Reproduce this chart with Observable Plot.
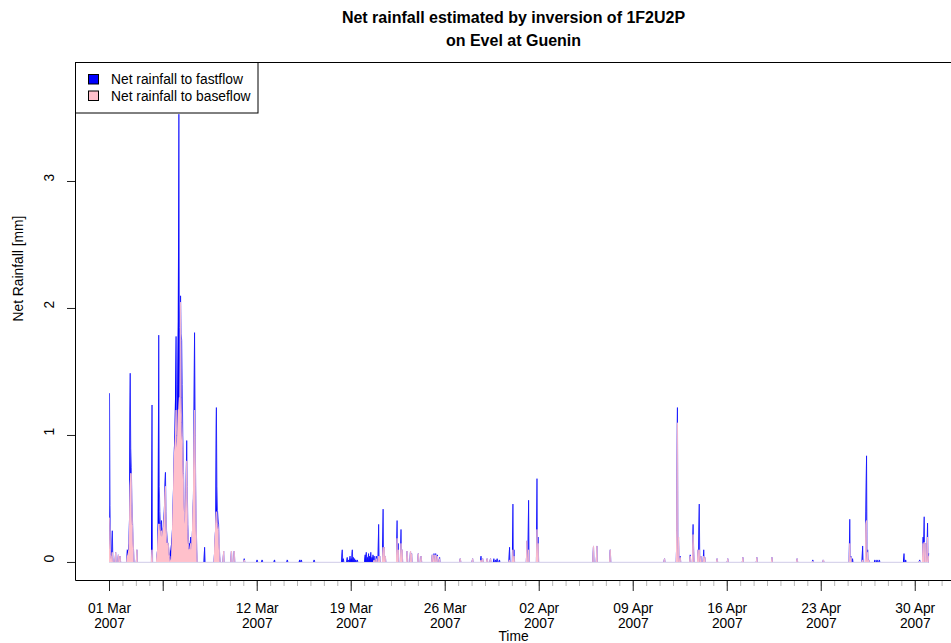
<!DOCTYPE html>
<html><head><meta charset="utf-8">
<script src="https://cdn.jsdelivr.net/npm/d3@7"></script>
<script src="https://cdn.jsdelivr.net/npm/@observablehq/plot@0.6"></script>
<style>
body{margin:0;background:#fff;}
svg{font-family:"Liberation Sans",Arial,Helvetica,sans-serif;}
</style>
</head><body><div id="chart"></div>
<script>
// ---- texts ----
const titleLines = ["Net rainfall estimated by inversion of 1F2U2P", "on Evel at Guenin"];
const yLabel = "Net Rainfall [mm]";
const xLabel = "Time";
const seriesNames = ["Net rainfall to fastflow", "Net rainfall to baseflow"];
const seriesColors = ["blue", "pink"];

// ---- ticks ----
const majorTickDates = ["2007-03-01","2007-03-05","2007-03-12","2007-03-19","2007-03-26","2007-04-02","2007-04-09","2007-04-16","2007-04-23","2007-04-30"];
const majorTickLabels = ["01 Mar\n2007","","12 Mar\n2007","19 Mar\n2007","26 Mar\n2007","02 Apr\n2007","09 Apr\n2007","16 Apr\n2007","23 Apr\n2007","30 Apr\n2007"];
const yTicks = [0, 1, 2, 3];

// ---- data: hours after 01 Mar 2007 00:00 (wet hours only), total net rainfall and its baseflow part (mm) ----
const hourOffsets = [
  0,1,2,3,5,6,11,16,19,
  32,33,34,35,36,37,38,39,40,41,42,43,49,76,
  85,86,87,88,89,90,91,92,93,94,95,96,97,98,99,100,101,102,103,104,105,106,107,108,109,110,
  111,112,113,114,115,116,117,118,119,120,121,122,123,124,125,126,127,128,129,130,131,132,133,134,135,136,137,138,139,140,141,142,143,144,145,146,147,148,149,150,151,152,153,154,155,156,
  170,188,189,190,191,192,193,194,195,196,197,
  204,218,223,241,264,273,295,318,340,343,366,
  416,418,425,427,430,432,434,436,438,440,443,457,459,461,463,465,467,469,471,473,477,481,483,489,491,493,
  514,516,521,523,532,538,540,552,557,577,580,583,586,590,627,649,664,667,675,681,687,690,693,697,
  715,721,723,746,749,764,766,865,871,895,992,
  1014,1015,1017,1020,1038,1043,1044,1052,1054,1057,1062,1064,1086,1105,1132,1157,1184,1229,1257,1276,
  1323,1325,1328,1346,1352,1353,1355,1357,1368,1372,1376,1420,1423,1448,1454,1456,1459,1462,1464];
const totalRain = [
  1.33,0.45,0.10,0.06,0.25,0.04,0.08,0.06,0.05,
  0.10,0.08,0.10,0.15,0.40,1.49,0.90,0.75,0.50,0.35,0.20,0.10,0.10,1.24,
  0.05,0.10,0.30,1.79,0.60,0.40,0.30,0.25,0.33,0.25,0.20,0.25,0.30,0.40,0.55,0.71,0.40,0.25,0.20,0.15,0.15,0.10,0.05,0.05,0.08,0.10,
  0.15,0.20,0.30,0.50,0.70,0.90,1.00,1.30,1.78,1.20,1.00,1.40,1.90,3.53,1.85,1.60,2.10,1.80,1.75,1.40,1.00,0.80,0.50,0.40,0.30,0.35,0.60,0.96,0.60,0.30,0.20,0.10,0.15,0.10,0.20,0.10,0.10,0.20,0.35,0.50,1.00,1.81,1.20,0.60,0.30,0.10,
  0.12,0.10,0.20,0.30,1.22,0.60,0.41,0.35,0.30,0.15,0.05,
  0.09,0.09,0.09,0.03,0.02,0.02,0.02,0.02,0.02,0.02,0.02,
  0.10,0.03,0.04,0.02,0.05,0.03,0.10,0.04,0.03,0.02,0.02,0.06,0.08,0.04,0.07,0.05,0.08,0.04,0.06,0.05,0.05,0.30,0.05,0.42,0.12,0.05,
  0.33,0.15,0.26,0.10,0.09,0.09,0.07,0.07,0.05,0.06,0.07,0.07,0.06,0.04,0.03,0.03,0.05,0.03,0.03,0.03,0.03,0.02,0.03,0.02,
  0.12,0.46,0.10,0.17,0.49,0.66,0.20,0.13,0.13,0.10,0.03,
  0.28,1.22,0.20,0.05,0.06,0.30,0.10,0.10,0.46,0.05,0.10,0.04,0.03,0.03,0.04,0.04,0.04,0.03,0.02,0.02,
  0.34,0.05,0.03,0.13,0.40,0.84,0.10,0.02,0.02,0.02,0.02,0.07,0.02,0.02,0.20,0.36,0.15,0.31,0.07];
const baseflowRain = [
  0.35,0.25,0.05,0.05,0.08,0.04,0.08,0.06,0.05,
  0.05,0.05,0.08,0.10,0.30,0.60,0.70,0.70,0.45,0.30,0.20,0.10,0.10,0.10,
  0.05,0.10,0.20,0.30,0.30,0.30,0.25,0.20,0.25,0.20,0.20,0.25,0.28,0.35,0.50,0.60,0.35,0.20,0.15,0.15,0.15,0.10,0.05,0.05,0.00,0.02,
  0.02,0.15,0.30,0.45,0.65,0.85,0.90,1.00,1.20,1.00,0.90,1.00,1.20,1.20,1.30,1.20,2.05,1.30,1.10,1.00,0.90,0.70,0.50,0.40,0.30,0.35,0.55,0.80,0.50,0.25,0.15,0.10,0.10,0.10,0.15,0.10,0.10,0.20,0.35,0.50,0.90,1.20,1.00,0.60,0.30,0.10,
  0.00,0.10,0.20,0.30,0.40,0.35,0.30,0.28,0.25,0.15,0.05,
  0.09,0.09,0.09,0.02,0.00,0.00,0.00,0.00,0.00,0.00,0.00,
  0.00,0.00,0.00,0.00,0.00,0.00,0.00,0.00,0.00,0.00,0.00,0.00,0.00,0.00,0.00,0.00,0.00,0.00,0.00,0.02,0.03,0.05,0.05,0.12,0.12,0.05,
  0.19,0.10,0.15,0.10,0.09,0.09,0.07,0.07,0.05,0.06,0.06,0.06,0.05,0.03,0.03,0.03,0.02,0.03,0.03,0.03,0.00,0.00,0.00,0.00,
  0.02,0.10,0.05,0.17,0.10,0.26,0.15,0.13,0.13,0.10,0.03,
  0.25,1.10,0.20,0.04,0.05,0.22,0.10,0.10,0.10,0.05,0.05,0.04,0.03,0.03,0.04,0.04,0.04,0.03,0.01,0.02,
  0.15,0.04,0.00,0.02,0.30,0.33,0.08,0.02,0.00,0.00,0.00,0.00,0.00,0.01,0.15,0.16,0.15,0.20,0.05];

if (hourOffsets.length !== totalRain.length || hourOffsets.length !== baseflowRain.length)
  throw new Error("length mismatch " + hourOffsets.length + " " + totalRain.length + " " + baseflowRain.length);

// ---- build rows (hours not listed are dry: value 0) ----
const t0 = Date.UTC(2007, 2, 1);
const H = 3600000, D = 24 * H;
const toDate = h => new Date(t0 + h * H);
const rows = [];
hourOffsets.forEach((h, i) => {
  rows.push({date: toDate(h), total: totalRain[i], base: baseflowRain[i]});
  const next = hourOffsets[i + 1];
  if (next !== undefined && next - h >= 2) {
    rows.push({date: toDate(h + 1), total: 0, base: 0});
    if (next - h > 2) rows.push({date: toDate(next - 1), total: 0, base: 0});
  }
});

const majorTicks = majorTickDates.map(s => new Date(s + "T00:00:00Z"));
const labelOf = new Map(majorTicks.map((d, i) => [+d, majorTickLabels[i]]));
const minorTicks = d3.utcDay.range(new Date(t0), new Date(t0 + 64 * D));

const xDomain = [new Date(t0 - 2.532 * D), new Date(t0 + 62.70 * D)];
const FS = 13.8;

const chart = Plot.plot({
  width: 951, height: 643,
  marginLeft: 75, marginRight: 0, marginTop: 62, marginBottom: 63,
  style: {fontFamily: '"Liberation Sans",Arial,Helvetica,sans-serif', fontSize: FS + "px", background: "#fff", overflow: "visible"},
  x: {type: "utc", domain: xDomain, range: [75, 951]},
  y: {domain: [-0.142, 3.937]},
  marks: [
    Plot.areaY(rows, {x: "date", y1: 0, y2: "total", fill: seriesColors[0], curve: "linear"}),
    Plot.lineY(rows, {x: "date", y: "total", stroke: seriesColors[0], strokeWidth: 0.7, curve: "linear"}),
    Plot.areaY(rows, {x: "date", y1: 0, y2: "base", fill: seriesColors[1], curve: "linear"}),
    Plot.lineY(rows, {x: "date", y: "base", stroke: seriesColors[1], strokeWidth: 0.8, curve: "linear"}),
    Plot.ruleY([0], {x1: new Date(t0), x2: toDate(1464), stroke: "#d8d8ec", strokeWidth: 1}),
    Plot.axisX({ticks: minorTicks, tickSize: 6, stroke: "#b8b8b8", tickFormat: () => "", label: null}),
    Plot.axisX({ticks: majorTicks, tickSize: 11, stroke: "#222", tickFormat: () => "", label: null}),
    Plot.text(majorTicks, {x: d => d, text: d => labelOf.get(+d), frameAnchor: "bottom", dy: 22, lineAnchor: "top", lineHeight: 1.09, fontSize: FS, fill: "#000"}),
    Plot.axisY({ticks: yTicks, tickSize: 8, stroke: "#222", tickFormat: () => "", label: null}),
    Plot.text(yTicks, {y: d => d, text: d => String(d), frameAnchor: "left", dx: -26, rotate: -90, fontSize: FS, fill: "#000"}),
    Plot.text([yLabel], {frameAnchor: "left", dx: -57, rotate: -90, fontSize: FS, fill: "#000"}),
    Plot.text([xLabel], {frameAnchor: "bottom", dy: 56, lineAnchor: "middle", fontSize: FS, fill: "#000"}),
    Plot.text([titleLines[0]], {frameAnchor: "top", dy: -45, lineAnchor: "middle", fontSize: 16, fontWeight: "bold", fill: "#000"}),
    Plot.text([titleLines[1]], {frameAnchor: "top", dy: -22, lineAnchor: "middle", fontSize: 16, fontWeight: "bold", fill: "#000"})
  ]
});
document.getElementById("chart").appendChild(chart);

// plot box (left, top, bottom) and legend
const svg = d3.select(chart);
const g = svg.append("g").attr("fill", "none").attr("stroke", "#000").attr("stroke-width", 1);
g.append("path").attr("d", "M951,62.5H75.5V580.5H951");

const lg = svg.append("g").attr("text-anchor", "start");
lg.append("rect").attr("x", 75.5).attr("y", 62.5).attr("width", 182.5).attr("height", 50.5)
  .attr("fill", "#fff").attr("stroke", "#000");
seriesNames.forEach((name, i) => {
  lg.append("rect").attr("x", 88.5).attr("y", 74.5 + i * 16.5).attr("width", 10).attr("height", 9.5)
    .attr("fill", seriesColors[i]).attr("stroke", "#000").attr("stroke-width", 1);
  lg.append("text").attr("x", 111).attr("y", 79.5 + i * 16.5).attr("dy", "0.35em")
    .attr("text-anchor", "start").attr("font-size", FS).attr("fill", "#000").text(name);
});
</script>
</body></html>
